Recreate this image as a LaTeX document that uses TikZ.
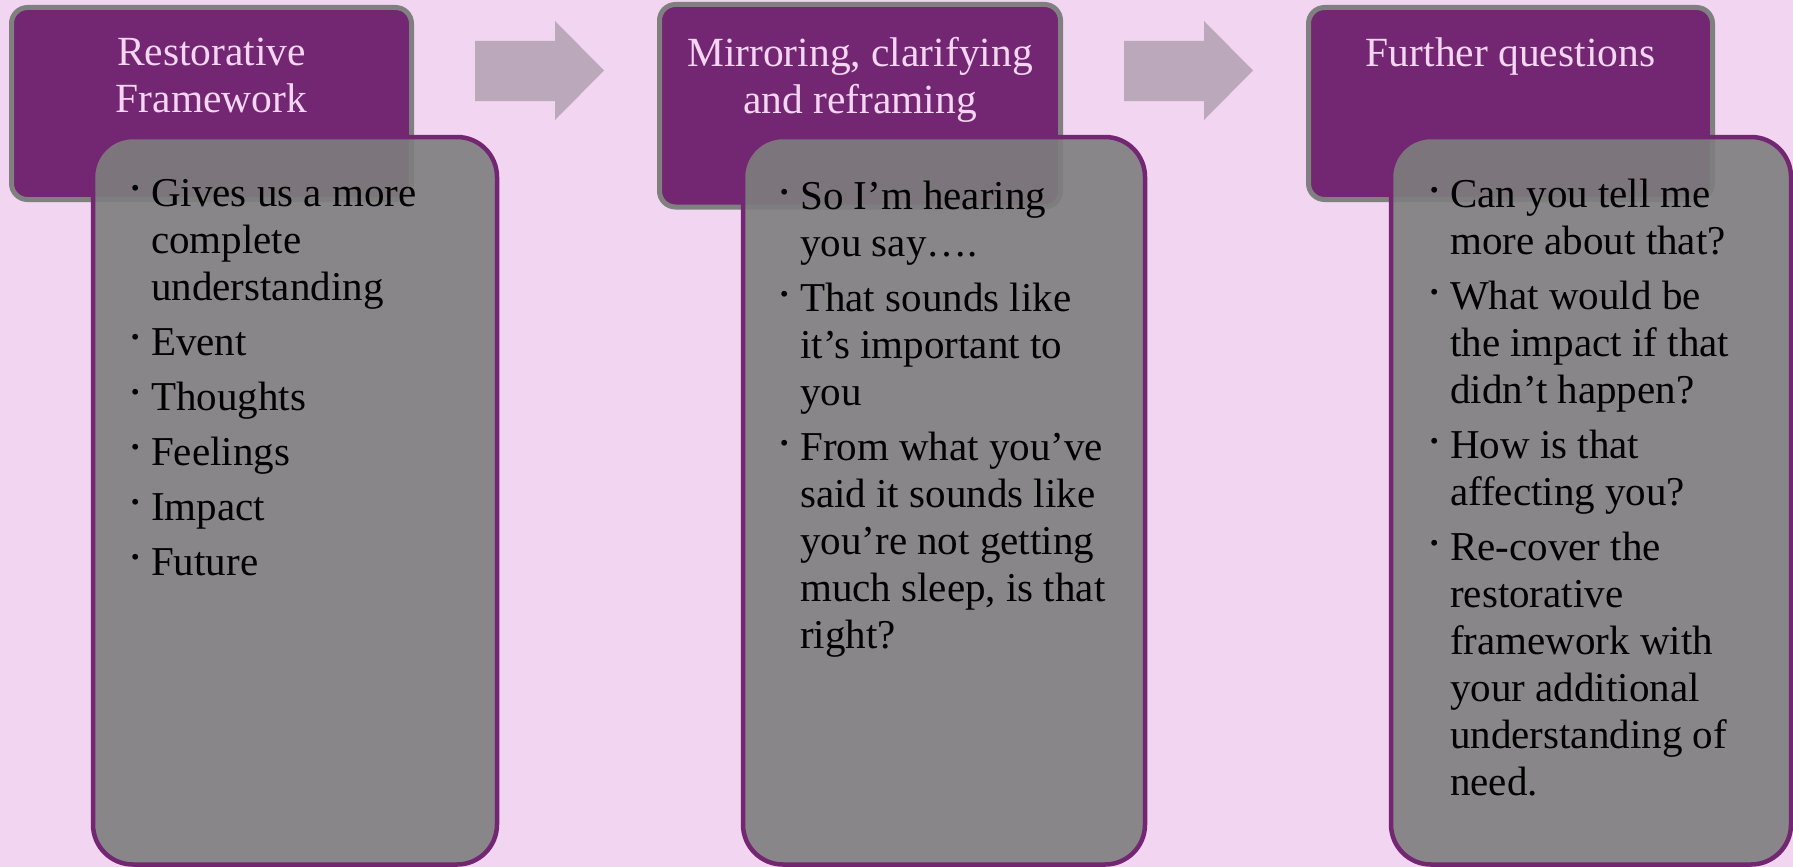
\documentclass[tikz,border=0pt]{standalone}
\usepackage{fontspec}
\setmainfont{Liberation Serif}
\usetikzlibrary{positioning}
\definecolor{bgpink}{HTML}{F2D5F0}
\definecolor{plum}{HTML}{732671}
\definecolor{headtext}{HTML}{F4D6F2}
\definecolor{boxgray}{HTML}{7E7E7E}
\definecolor{arrowgray}{HTML}{BBA9BB}
\newcommand{\bul}{\makebox[24pt][l]{\raisebox{1.5pt}{\scalebox{1.2}{·}}}}
\newcommand{\ind}{\hspace*{24pt}}

\begin{document}
\begin{tikzpicture}[x=1pt, y=-1pt,
  head/.style={draw=gray, line width=5pt, fill=plum, rounded corners=16pt},
  body/.style={draw=plum, line width=4.5pt, fill=boxgray, fill opacity=0.9, rounded corners=40pt},
  headlabel/.style={text=headtext, align=center, inner sep=0pt, anchor=north,
    font=\fontsize{41.5}{47}\selectfont},
  bodylabel/.style={text=black, align=left, inner sep=0pt, anchor=north west,
    font=\fontsize{41}{47}\selectfont},
  flow/.style={fill=arrowgray}]
  \useasboundingbox (0,0) rectangle (1793,867);
  \fill[bgpink] (0,0) rectangle (1793,867);
  % block arrows between the steps
  \foreach \dx in {0,649}{
    \fill[flow] (475+\dx,41) -- (555+\dx,41) -- (555+\dx,21) -- (604+\dx,70.5)
      -- (555+\dx,120) -- (555+\dx,101) -- (475+\dx,101) -- cycle;}
  % step 1
  \draw[head] (11.5,7.5) rectangle (411.5,199.5);
  \node[headlabel] (head1) at (211.5,38) {Restorative\\Framework};
  \draw[body] (93,137) rectangle (497,864.5);
  \node[bodylabel] (list1) at (127,179) {\bul Gives us a more\\ \ind complete\\ \ind understanding\\[8pt]
    \bul Event\\[8pt] \bul Thoughts\\[8pt] \bul Feelings\\[8pt] \bul Impact\\[8pt] \bul Future};
  % step 2
  \draw[head] (659.5,4.5) rectangle (1060.5,207);
  \node[headlabel] (head2) at (860,37) {Mirroring, clarifying\\and reframing};
  \draw[body] (743,137) rectangle (1145,864.5);
  \node[bodylabel] (list2) at (776,181) {\bul So I’m hearing\\ \ind you say….\\[8pt]
    \bul That sounds like\\ \ind it’s important to\\ \ind you\\[8pt]
    \bul From what you’ve\\ \ind said it sounds like\\ \ind you’re not getting\\ \ind much sleep, is that\\ \ind right?};
  % step 3
  \draw[head] (1308.5,7.5) rectangle (1712.5,199.5);
  \node[headlabel] (head3) at (1510.5,38) {Further questions};
  \draw[body] (1391,137) rectangle (1791,864.5);
  \node[bodylabel] (list3) at (1426,179) {\bul Can you tell me\\ \ind more about that?\\[8pt]
    \bul What would be\\ \ind the impact if that\\ \ind didn’t happen?\\[8pt]
    \bul How is that\\ \ind affecting you?\\[8pt]
    \bul Re-cover the\\ \ind restorative\\ \ind framework with\\ \ind your additional\\ \ind understanding of\\ \ind need.};
\end{tikzpicture}
\end{document}
